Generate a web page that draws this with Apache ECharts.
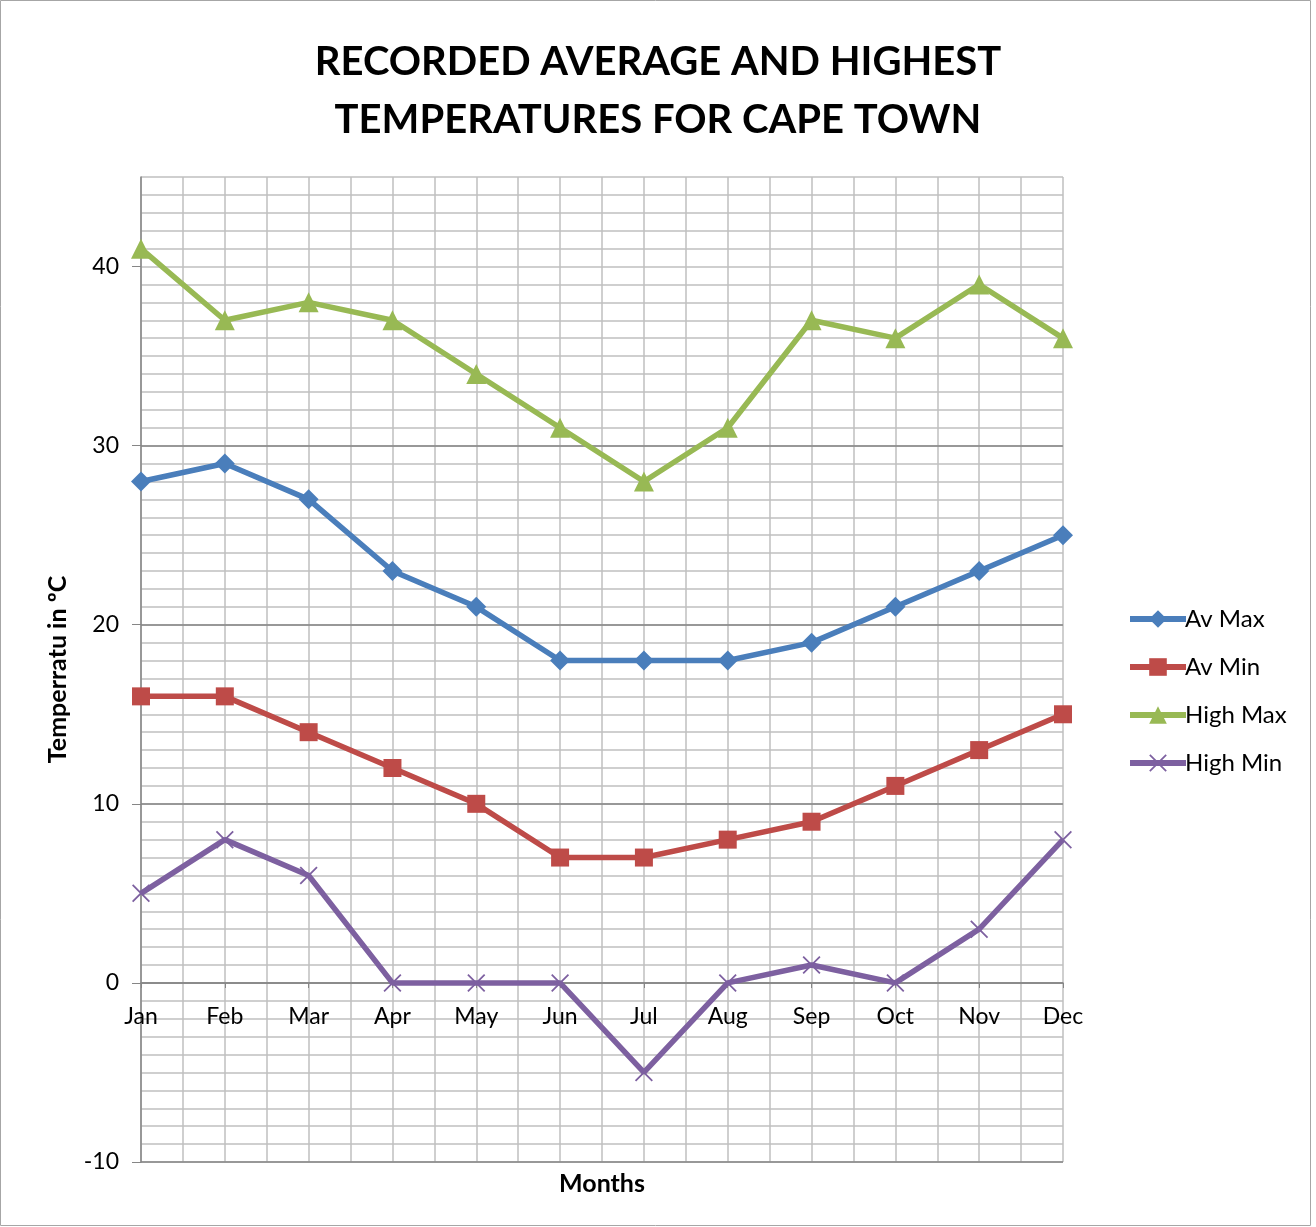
<!DOCTYPE html>
<html>
<head>
<meta charset="utf-8">
<script src="https://cdn.jsdelivr.net/npm/echarts@6/dist/echarts.min.js"></script>
<style>
  html, body { margin: 0; padding: 0; background: #fff; }
  #chart { width: 1316px; height: 1227px; }
</style>
</head>
<body>
<div id="chart"></div>
<script>
// 數據
const months = ['Jan', 'Feb', 'Mar', 'Apr', 'May', 'Jun', 'Jul', 'Aug', 'Sep', 'Oct', 'Nov', 'Dec'];
const avMax = [28, 29, 27, 23, 21, 18, 18, 18, 19, 21, 23, 25];
const avMin = [16, 16, 14, 12, 10, 7, 7, 8, 9, 11, 13, 15];
const highMax = [41, 37, 38, 37, 34, 31, 28, 31, 37, 36, 39, 36];
const highMin = [5, 8, 6, 0, 0, 0, -5, 0, 1, 0, 3, 8];
const yTicks = [-10, 0, 10, 20, 30, 40];

const FONT = 'Lato, "Open Sans", sans-serif';
const crossPath = 'path://M0,0.7 L0.7,0 L5,4.3 L9.3,0 L10,0.7 L5.7,5 L10,9.3 L9.3,10 L5,5.7 L0.7,10 L0,9.3 L4.3,5 Z';

const chart = echarts.init(document.getElementById('chart'));

const makeLine = (name, data, color, symbol, size) => ({
  name,
  type: 'line',
  data,
  xAxisIndex: 0,
  yAxisIndex: 0,
  symbol,
  symbolSize: size,
  showAllSymbol: true,
  z: 5,
  lineStyle: { color, width: 5.5 },
  itemStyle: { color, borderWidth: 0 },
  emphasis: { disabled: true },
});

const option = {
  animation: false,
  textStyle: { fontFamily: FONT },
  graphic: [
    {
      type: 'rect',
      shape: { x: 0.5, y: 0.5, width: 1310, height: 1225 },
      style: { fill: 'none', stroke: '#a6a6a6', lineWidth: 1 },
      silent: true,
    },
    {
      type: 'text',
      x: 602,
      y: 1184,
      style: {
        text: 'Months',
        align: 'center',
        verticalAlign: 'middle',
        fontSize: 25,
        fontWeight: 'bold',
        fontFamily: FONT,
        fill: '#000',
      },
      silent: true,
    },
  ],
  title: {
    text: 'RECORDED AVERAGE AND HIGHEST\nTEMPERATURES FOR CAPE TOWN',
    left: 'center',
    top: 28,
    textStyle: {
      fontFamily: FONT,
      fontSize: 40,
      fontWeight: 'bold',
      lineHeight: 58,
      color: '#000',
    },
  },
  legend: {
    orient: 'vertical',
    left: 1122,
    top: 602,
    itemWidth: 56,
    itemHeight: 22,
    itemGap: 24,
    lineStyle: { width: 6 },
    textStyle: { fontFamily: FONT, fontSize: 24, color: '#000', padding: [0, 0, 0, -6] },
    data: ['Av Max', 'Av Min', 'High Max', 'High Min'],
  },
  grid: [
    // 主繪圖區
    { left: 141, right: 253, top: 177, bottom: 65, containLabel: false },
    // 只用來把月份軸放在 0 的位置
    { left: 141, right: 253, top: 177, bottom: 244, containLabel: false },
  ],
  xAxis: [
    {
      type: 'category',
      gridIndex: 0,
      data: months,
      boundaryGap: false,
      show: false,
    },
    {
      // 垂直網格線
      type: 'value',
      gridIndex: 0,
      min: 0,
      max: 11,
      interval: 0.5,
      position: 'top',
      z: 1,
      axisLine: { show: false, onZero: false },
      axisTick: { show: false },
      axisLabel: { show: false },
      splitLine: { show: true, lineStyle: { color: '#bfbfbf', width: 1.5 } },
    },
    {
      type: 'category',
      gridIndex: 1,
      data: months,
      boundaryGap: false,
      position: 'bottom',
      z: 4,
      axisLine: { onZero: false, lineStyle: { color: '#868686', width: 1.5 } },
      axisTick: { show: true, length: 5, lineStyle: { color: '#868686' } },
      axisLabel: { fontSize: 23, color: '#000', margin: 22, fontFamily: FONT },
      splitLine: { show: false },
    },
  ],
  yAxis: [
    {
      type: 'value',
      gridIndex: 0,
      min: -10,
      max: 45,
      interval: 10,
      z: 3,
      name: 'Temperratu in ºC',
      nameLocation: 'middle',
      nameGap: 71,
      nameTextStyle: { fontSize: 25, fontWeight: 'bold', color: '#000', fontFamily: FONT },
      axisLine: { show: true, onZero: false, lineStyle: { color: '#868686', width: 1.5 } },
      axisTick: { show: true, length: 9, customValues: yTicks, lineStyle: { color: '#868686' } },
      axisLabel: {
        fontSize: 23,
        color: '#000',
        margin: 22,
        fontFamily: FONT,
        customValues: yTicks,
      },
      splitLine: { show: true, showMaxLine: false, lineStyle: { color: '#868686', width: 1.5 } },
    },
    {
      // 次要水平網格線
      type: 'value',
      gridIndex: 0,
      min: -10,
      max: 45,
      interval: 1,
      position: 'left',
      z: 1,
      axisLine: { show: false, onZero: false },
      axisTick: { show: false },
      axisLabel: { show: false },
      splitLine: { show: true, lineStyle: { color: '#bfbfbf', width: 1.5 } },
    },
    {
      type: 'value',
      gridIndex: 1,
      min: 0,
      max: 45,
      show: false,
    },
  ],
  series: [
    makeLine('Av Max', avMax, '#4a7ebb', 'diamond', 20),
    makeLine('Av Min', avMin, '#be4b48', 'rect', 18),
    makeLine('High Max', highMax, '#98b954', 'triangle', 20),
    makeLine('High Min', highMin, '#7d60a0', crossPath, 18),
  ],
};

chart.setOption(option);
</script>
</body>
</html>
